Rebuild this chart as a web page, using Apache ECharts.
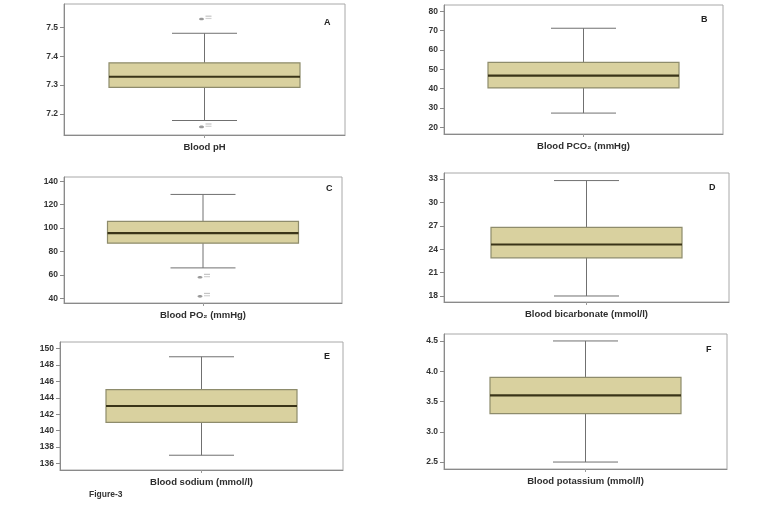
<!DOCTYPE html>
<html>
<head>
<meta charset="utf-8">
<script src="https://cdn.jsdelivr.net/npm/echarts@6/dist/echarts.min.js"></script>
<style>
html,body{margin:0;padding:0;background:#fff;}
#chart{width:761px;height:509px;}
</style>
</head>
<body>
<div id="chart"></div>
<script>
// ---- Data ----
const panelLetters = ['A', 'B', 'C', 'D', 'E', 'F'];
const categories = ['Blood pH', 'Blood PCO₂ (mmHg)', 'Blood PO₂ (mmHg)', 'Blood bicarbonate (mmol/l)', 'Blood sodium (mmol/l)', 'Blood potassium (mmol/l)'];
// [min whisker, Q1, median, Q3, max whisker]
const boxPH = [7.178, 7.292, 7.329, 7.377, 7.479];
const boxPCO2 = [27.4, 40.4, 46.7, 53.6, 71.2];
const boxPO2 = [66, 87.1, 95.7, 105.7, 128.8];
const boxHCO3 = [18, 22.9, 24.6, 26.8, 32.8];
const boxNa = [137, 141, 143, 145, 149];
const boxK = [2.5, 3.3, 3.6, 3.9, 4.5];
const outliersPH = [7.528, 7.156];
const outliersPCO2 = [];
const outliersPO2 = [58, 41.7];
const outliersHCO3 = [];
const outliersNa = [];
const outliersK = [];
// tick labels
const ticksPH = [7.2, 7.3, 7.4, 7.5];
const ticksPCO2 = [20, 30, 40, 50, 60, 70, 80];
const ticksPO2 = [40, 60, 80, 100, 120, 140];
const ticksHCO3 = [18, 21, 24, 27, 30, 33];
const ticksNa = [136, 138, 140, 142, 144, 146, 148, 150];
const ticksK = [2.5, 3.0, 3.5, 4.0, 4.5];
// axis ranges [min, max]
const rangePH = [7.128, 7.58];
const rangePCO2 = [16.6, 83.2];
const rangePO2 = [36, 143.7];
const rangeHCO3 = [17.23, 33.77];
const rangeNa = [135.2, 150.8];
const rangeK = [2.385, 4.615];

const boxes = [boxPH, boxPCO2, boxPO2, boxHCO3, boxNa, boxK];
const outliers = [outliersPH, outliersPCO2, outliersPO2, outliersHCO3, outliersNa, outliersK];
const ticks = [ticksPH, ticksPCO2, ticksPO2, ticksHCO3, ticksNa, ticksK];
const ranges = [rangePH, rangePCO2, rangePO2, rangeHCO3, rangeNa, rangeK];
const decimals = [1, 0, 0, 0, 0, 1];

// ---- Layout / style ----
const grids = [
  {left: 64, top: 4, width: 281, height: 131},
  {left: 444, top: 5, width: 279, height: 129},
  {left: 64, top: 177, width: 278, height: 126},
  {left: 444, top: 173, width: 285, height: 129},
  {left: 60, top: 342, width: 283, height: 128},
  {left: 444, top: 334, width: 283, height: 135}
];
const letterPos = [[327, 23], [704, 20], [329, 189], [712, 188], [327, 357], [709, 350]];
const BOX_W = 191, CAP_W = 65;
const FONT = '"Liberation Sans", "DejaVu Sans", sans-serif';

function renderBox(params, api) {
  const vmin = api.value(1), q1 = api.value(2), med = api.value(3), q3 = api.value(4), vmax = api.value(5);
  const cx = api.coord([api.value(0), med])[0];
  const y = v => api.coord([api.value(0), v])[1];
  const bh = BOX_W / 2, ch = CAP_W / 2;
  const lineStyle = {stroke: '#707070', lineWidth: 1};
  return {
    type: 'group',
    children: [
      {type: 'line', shape: {x1: cx, y1: y(vmax), x2: cx, y2: y(vmin)}, style: lineStyle},
      {type: 'line', shape: {x1: cx - ch, y1: y(vmax), x2: cx + ch, y2: y(vmax)}, style: lineStyle},
      {type: 'line', shape: {x1: cx - ch, y1: y(vmin), x2: cx + ch, y2: y(vmin)}, style: lineStyle},
      {type: 'rect', shape: {x: cx - bh, y: y(q3), width: BOX_W, height: y(q1) - y(q3)},
        style: {fill: '#d9d19f', stroke: '#8e8c6c', lineWidth: 1.2}},
      {type: 'line', shape: {x1: cx - bh, y1: y(med), x2: cx + bh, y2: y(med)},
        style: {stroke: '#3a3418', lineWidth: 2.2}}
    ]
  };
}

function renderOutlier(params, api) {
  const p = api.coord([api.value(0), api.value(1)]);
  return {
    type: 'group',
    children: [
      {type: 'ellipse', shape: {cx: p[0] - 3, cy: p[1], rx: 2.5, ry: 1.3}, style: {fill: '#9a9a9a'}},
      {type: 'rect', shape: {x: p[0] + 1, y: p[1] - 3.5, width: 6, height: 1.2}, style: {fill: '#c4c4c4'}},
      {type: 'rect', shape: {x: p[0] + 1, y: p[1] - 1.2, width: 6, height: 1.2}, style: {fill: '#d2d2d2'}}
    ]
  };
}

const option = {
  backgroundColor: '#fff',
  animation: false,
  grid: grids.map(g => Object.assign({show: true, borderColor: '#a8a8a8', borderWidth: 1, backgroundColor: '#fff'}, g)),
  xAxis: categories.map((c, i) => ({
    type: 'category',
    gridIndex: i,
    data: [c],
    axisLine: {show: true, lineStyle: {color: '#8a8a8a', width: 1}},
    axisTick: {show: true, alignWithLabel: true, length: 3, lineStyle: {color: '#9a9a9a'}},
    axisLabel: {margin: 7, color: '#2e2e2e', fontSize: 9.5, fontWeight: 'bold', fontFamily: FONT}
  })),
  yAxis: ranges.map((r, i) => ({
    type: 'value',
    gridIndex: i,
    min: r[0],
    max: r[1],
    splitLine: {show: false},
    axisLine: {show: true, lineStyle: {color: '#8a8a8a', width: 1}},
    axisTick: {show: true, length: 4, customValues: ticks[i], lineStyle: {color: '#8a8a8a'}},
    axisLabel: {
      customValues: ticks[i],
      margin: 6,
      color: '#333',
      fontSize: 8.5,
      fontWeight: 'bold',
      fontFamily: FONT,
      formatter: v => Number(v).toFixed(decimals[i])
    }
  })),
  series: [].concat(
    boxes.map((b, i) => ({
      type: 'custom',
      xAxisIndex: i,
      yAxisIndex: i,
      renderItem: renderBox,
      encode: {x: 0, y: [1, 2, 3, 4, 5]},
      data: [[0].concat(b)],
      z: 2
    })),
    outliers.map((o, i) => ({
      type: 'custom',
      xAxisIndex: i,
      yAxisIndex: i,
      renderItem: renderOutlier,
      encode: {x: 0, y: 1},
      data: o.map(v => [0, v]),
      z: 3
    }))
  ),
  graphic: panelLetters.map((l, i) => ({
    type: 'text',
    left: letterPos[i][0] - 3,
    top: letterPos[i][1] - 5,
    style: {text: l, fill: '#222', font: 'bold 9px ' + FONT}
  })).concat([{
    type: 'text',
    left: 89,
    top: 490,
    style: {text: 'Figure-3', fill: '#333', font: 'bold 8.5px ' + FONT}
  }])
};

const chart = echarts.init(document.getElementById('chart'), null, {renderer: 'canvas'});
chart.setOption(option);
</script>
</body>
</html>
